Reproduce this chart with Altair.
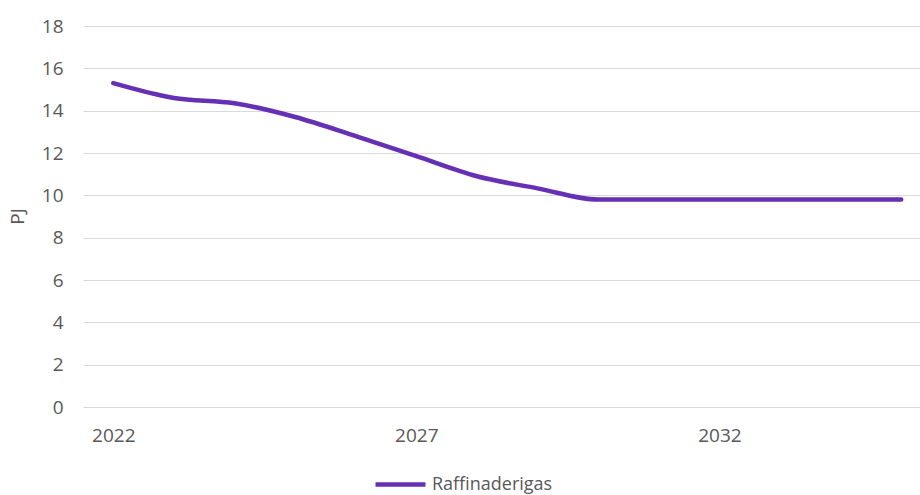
import altair as alt
import pandas as pd

# Refinery gas projection, PJ per year
years = [2022, 2023, 2024, 2025, 2026, 2027, 2028, 2029, 2030, 2031, 2032, 2033, 2034, 2035]
raffinaderigas = [15.3, 14.6, 14.35, 13.7, 12.8, 11.85, 10.9, 10.33, 9.8, 9.8, 9.8, 9.8, 9.8, 9.8]
series_name = "Raffinaderigas"
x_ticks = [2022, 2027, 2032]
y_ticks = [0, 2, 4, 6, 8, 10, 12, 14, 16, 18]

df = pd.DataFrame({"year": years, "value": raffinaderigas, "serie": series_name})

FONT = "Open Sans, sans-serif"
GREY = "#595959"
FS = 19

chart = (
    alt.Chart(df)
    .mark_line(strokeWidth=4.5, strokeCap="round", strokeJoin="round",
               interpolate="monotone")
    .encode(
        x=alt.X(
            "year:Q",
            scale=alt.Scale(domain=[2021.5, 2035.31], nice=False, zero=False),
            axis=alt.Axis(
                values=x_ticks, format="d", title=None, grid=False, ticks=False,
                domain=False, labelPadding=19, labelFontSize=FS, labelColor=GREY,
                labelFont=FONT,
            ),
        ),
        y=alt.Y(
            "value:Q",
            scale=alt.Scale(domain=[0, 18], nice=False),
            axis=alt.Axis(
                values=y_ticks, title="PJ", titleFontSize=FS, titleFont=FONT,
                titleColor=GREY, titleFontWeight="normal",
                titleX=-56, titleY=190, titleAngle=-90,
                ticks=False, domain=False, labelPadding=20, labelFontSize=FS,
                labelColor=GREY, labelFont=FONT, gridColor="#d9d9d9",
                gridWidth=1.2,
            ),
        ),
        color=alt.Color(
            "serie:N",
            scale=alt.Scale(range=["#6630B4"]),
            legend=alt.Legend(
                title=None, orient="none", legendX=290, legendY=431,
                symbolType="stroke", symbolSize=2500, symbolStrokeWidth=4.5,
                labelFontSize=18, labelFont=FONT, labelColor=GREY,
                labelOffset=4,
            ),
        ),
    )
    .properties(
        width=837,
        height=381,
        background="white",
        autosize=alt.AutoSizeParams(type="none"),
        padding={"left": 83, "top": 26, "right": 0, "bottom": 88},
    )
    .configure_view(stroke="transparent", strokeWidth=0)
)

chart.save("out.html", embed_options={"renderer": "svg", "actions": False})
